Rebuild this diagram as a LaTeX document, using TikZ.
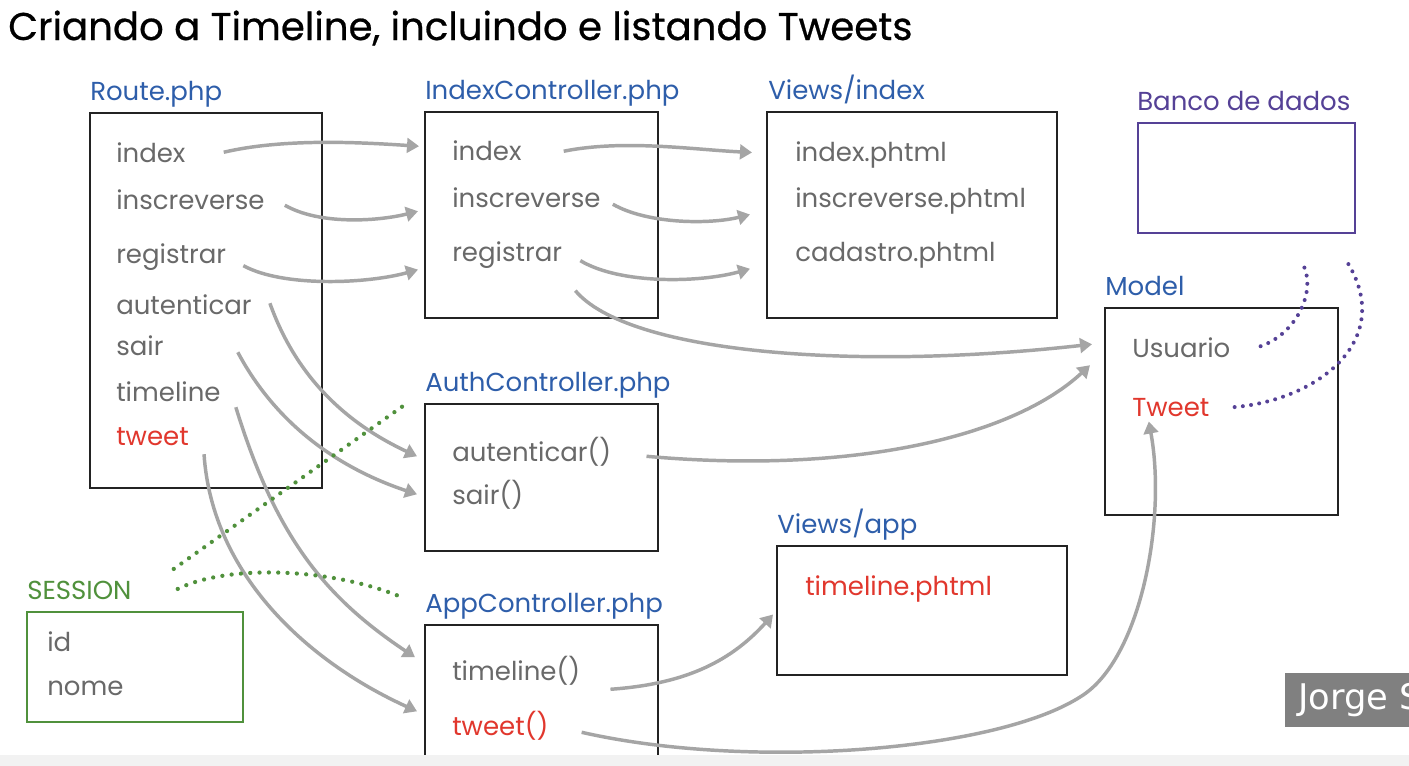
\documentclass[tikz,border=0pt]{standalone}
\usepackage{fontspec}
\setmainfont{Poppins}
\newfontfamily\jfont{DejaVu Sans}
\usetikzlibrary{arrows.meta,calc,fit}
\definecolor{lblue}{RGB}{46,94,170}
\definecolor{itemc}{RGB}{105,105,105}
\definecolor{redc}{RGB}{225,55,45}
\definecolor{greenc}{RGB}{80,145,60}
\definecolor{purplec}{RGB}{85,65,150}
\definecolor{arrc}{RGB}{165,165,165}
\definecolor{boxc}{RGB}{35,35,35}
\definecolor{jgray}{RGB}{128,128,128}
\begin{document}
\begin{tikzpicture}[x=0.75pt,y=-0.75pt,
  box/.style={draw=boxc,line width=2.1pt,inner sep=0pt},
  item/.style={anchor=base west,inner sep=0pt,text=itemc,font=\fontsize{19.5}{22}\selectfont},
  reditem/.style={item,text=redc},
  lbl/.style={anchor=base west,inner sep=0pt,text=lblue,font=\fontsize{19.5}{22}\selectfont},
  arr/.style={draw=arrc,line width=2.6pt,-{Triangle[length=9pt,width=11pt]}},
  gdot/.style={draw=greenc,line width=3.2pt,line cap=round,dash pattern=on 0pt off 7pt},
  pdot/.style={draw=purplec,line width=3pt,line cap=round,dash pattern=on 0pt off 6.2pt}]
\useasboundingbox (0,0) rectangle (1409,765);
\fill[white] (0,0) rectangle (1409,765);

% title
\node[anchor=base west,inner sep=0pt,font=\fontsize{29}{32}\selectfont\addfontfeature{FakeBold=0.6}] (title) at (8,40) {Criando a Timeline, incluindo e listando Tweets};

% boxes
\node[box,fit={(90,113)(322,488)}] (rb) {};
\node[box,fit={(425,112)(658,318)}] (ib) {};
\node[box,fit={(767,112)(1057,318)}] (vib) {};
\node[box,draw=purplec,fit={(1138,123)(1355,233)}] (dbb) {};
\node[box,fit={(1105,308)(1338,515)}] (mb) {};
\node[box,fit={(425,404)(658,551)}] (ab) {};
\node[box,fit={(425,625)(658,790)}] (apb) {};
\node[box,fit={(777,546)(1067,675)}] (vab) {};
\node[box,draw=greenc,fit={(27,612)(243,722)}] (sb) {};

% labels
\node[lbl] (rl) at (90,100) {Route.php};
\node[lbl] (il) at (425,99) {IndexController.php};
\node[lbl] (vil) at (768,99) {Views/index};
\node[lbl,text=purplec] (dbl) at (1137,110) {Banco de dados};
\node[lbl] (ml) at (1105,295) {Model};
\node[lbl] (al) at (425,391) {AuthController.php};
\node[lbl] (apl) at (425,612) {AppController.php};
\node[lbl] (val) at (777,533) {Views/app};
\node[lbl,text=greenc] (sl) at (27,599) {SESSION};

% Route items
\node[item] (r1) at (116,162) {index};
\node[item] (r2) at (116,209) {inscreverse};
\node[item] (r3) at (116,263) {registrar};
\node[item] (r4) at (116,314) {autenticar};
\node[item] (r5) at (116,355) {sair};
\node[item] (r6) at (116,401) {timeline};
\node[reditem] (r7) at (116,445) {tweet};
% IndexController items
\node[item] (i1) at (452,160) {index};
\node[item] (i2) at (452,207) {inscreverse};
\node[item] (i3) at (452,261) {registrar};
% Views/index items
\node[item] (v1) at (795,161) {index.phtml};
\node[item] (v2) at (795,207) {inscreverse.phtml};
\node[item] (v3) at (795,261) {cadastro.phtml};
% Model items
\node[item] (mu) at (1132,357) {Usuario};
\node[reditem] (mt) at (1132,416) {Tweet};
% Auth items
\node[item] (a1) at (452,461) {autenticar()};
\node[item] (a2) at (452,504) {sair()};
% App items
\node[item] (p1) at (452,680) {timeline()};
\node[reditem] (p2) at (452,735) {tweet()};
% Views/app
\node[reditem] (va1) at (805,595) {timeline.phtml};
% Session
\node[item] (s1) at (47,651) {id};
\node[item] (s2) at (47,695) {nome};

% Route -> IndexController
\draw[arr] ($(r1.east)+(38,0)$) .. controls +(60,-14) and +(-60,-4) .. ($(i1.west)+(-33,-4)$);
\draw[arr] ($(r2.east)+(20,6)$) .. controls +(35,20) and +(-40,10) .. ($(i2.west)+(-34,14)$);
\draw[arr] ($(r3.east)+(17,9)$) .. controls +(40,22) and +(-50,14) .. ($(i3.west)+(-34,15)$);
% Route -> Auth
\draw[arr] ($(r4.east)+(18,-1)$) .. controls +(25,70) and +(-75,-35) .. ($(a1.west)+(-35,5)$);
\draw[arr] ($(r5.east)+(74,7)$) .. controls +(40,75) and +(-75,-25) .. ($(a2.west)+(-35,0)$);
% Route -> App
\draw[arr] ($(r6.east)+(15,16)$) .. controls +(40,130) and +(-90,-60) .. ($(p1.west)+(-37,-13)$);
\draw[arr] ($(r7.east)+(15,18)$) .. controls +(8,120) and +(-110,-50) .. ($(p2.west)+(-35,-14)$);
% IndexController -> Views/index
\draw[arr] ($(i1.east)+(42,1)$) .. controls +(60,-12) and +(-60,-3) .. ($(v1.west)+(-43,-2)$);
\draw[arr] ($(i2.east)+(12,7)$) .. controls +(35,20) and +(-40,10) .. ($(v2.west)+(-45,14)$);
\draw[arr] ($(i3.east)+(18,6)$) .. controls +(40,24) and +(-50,14) .. ($(v3.west)+(-45,14)$);
% registrar -> Usuario
\draw[arr] ($(i3.east)+(13,36)$) .. controls +(52,62) and +(-242,27) .. ($(mu.west)+(-40,-3)$);
% autenticar -> Usuario
\draw[arr] ($(a1.east)+(35,5)$) .. controls +(200,18) and +(-80,74) .. ($(mu.west)+(-42,18)$);
% timeline() -> Views/app
\draw[arr] ($(p1.east)+(30,19)$) .. controls +(70,-5) and +(-45,50) .. ($(va1.west)+(-32,26)$);
% tweet() -> Tweet
\draw[arr] ($(p2.east)+(33,7)$) .. controls +(167,38) and +(-85,55) .. ($(mt.south)+(-90,280)$)
  .. controls +(60,-37) and +(18,98) .. ($(mt.south)+(-22,5)$);

% SESSION dotted
\draw[gdot] ($(sl.east)+(42,-21)$) -- ($(ab.north west)+(-20,3)$);
\draw[gdot] ($(sl.east)+(46,-1)$) .. controls +(50,-25) and +(-70,-30) .. ($(apl.west)+(-22,-8)$);

% Model -> DB dotted
\draw[pdot] ($(mu.east)+(30,-1)$) .. controls +(35,-12) and +(15,28) .. ($(dbb.south)+(56,29)$);
\draw[pdot] ($(mt.east)+(25,0)$) .. controls +(82,-7) and +(47,78) .. ($(dbb.south)+(101.5,29)$);

% bottom band and name tag
\fill[gray!10] (0,755) rectangle (1409,770);
\node[fill=jgray,inner sep=0pt,fit={(1285,673)(1420,727)}] (jbox) {};
\node[anchor=base west,inner sep=0pt,text=white,font=\jfont\fontsize{26.5}{30}\selectfont] (jt) at (1298,709) {Jorge S};
\end{tikzpicture}
\end{document}
